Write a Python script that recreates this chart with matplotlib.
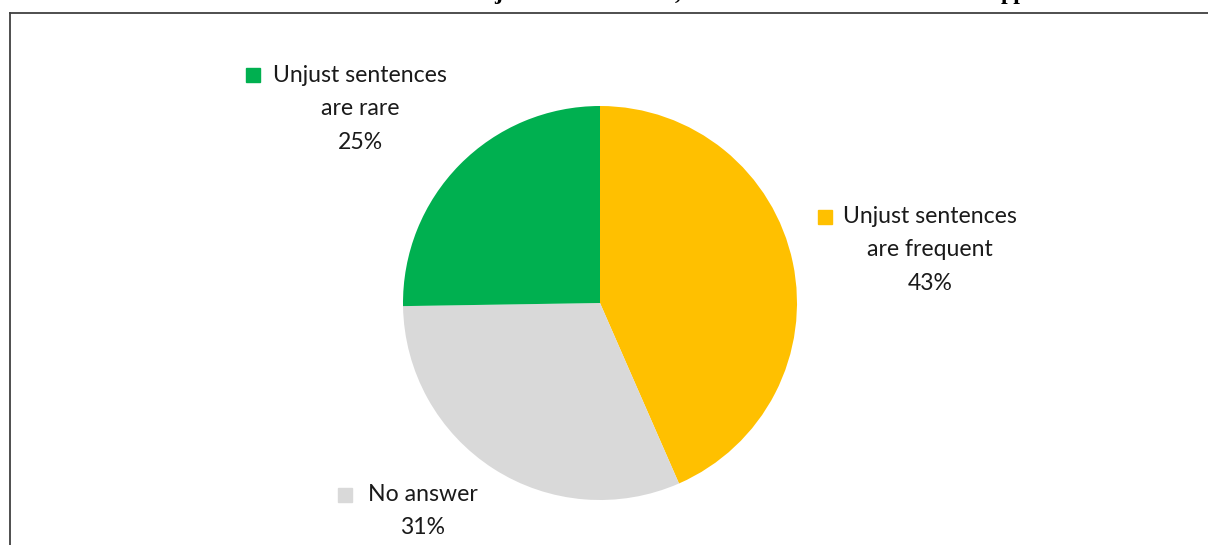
import matplotlib.pyplot as plt
from matplotlib.lines import Line2D

# survey answers (clockwise from 12 o'clock)
labels = ["Unjust sentences\nare frequent", "No answer", "Unjust sentences\nare rare"]
shares = [43, 31, 25]
colors = ["#FFC000", "#D9D9D9", "#00B050"]

W, H = 1208, 545
fig = plt.figure(figsize=(W / 100, H / 100), dpi=100)
fig.patch.set_facecolor("white")

# frame of the chart area, cut off on the right and bottom
fig.add_artist(Line2D([10 / W, 1.01], [1 - 12.5 / H] * 2, color="#404040", lw=1.3))
fig.add_artist(Line2D([10 / W] * 2, [-0.01, 1 - 12.5 / H], color="#404040", lw=1.3))

# bottom of the heading above the frame
serif = dict(family="Liberation Serif", weight="bold", fontsize=17, va="baseline", color="black")
fig.text(494 / W, 1 + 1 / H, "j", **serif)
fig.text(675 / W, 1 + 1 / H, ",", **serif)
fig.text(1001 / W, 1 + 1 / H, "pp", **serif)

# pie: centre (600, 303) px, radius 197 px
cx, cy, r = 600, 303, 197
ax = fig.add_axes([(cx - r) / W, (H - cy - r) / H, 2 * r / W, 2 * r / H])
ax.pie(shares, colors=colors, startangle=90, counterclock=False, radius=1,
       wedgeprops=dict(linewidth=0))
ax.set_xlim(-1, 1)
ax.set_ylim(-1, 1)
ax.set_aspect("auto")
ax.axis("off")


def px(x, y):
    return ((x - cx) / r, (cy - y) / r)


font = dict(family=["Lato", "DejaVu Sans"], fontsize=16.6, color="#1a1a1a")

# label block centres and legend-key squares, in pixels
label_pos = [(930, 250), (423, 511), (360, 109)]
key_pos = [(825, 217), (345, 495), (253, 75)]

for lab, val, col, (lx, ly), (kx, ky) in zip(labels, shares, colors, label_pos, key_pos):
    tx, ty = px(lx, ly)
    ax.text(tx, ty, f"{lab}\n{round(val)}%", ha="center", va="center",
            multialignment="center", linespacing=1.72, clip_on=False, **font)
    sx, sy = px(kx, ky)
    ax.plot([sx], [sy], marker="s", markersize=10.5, color=col, linestyle="none",
            clip_on=False)

fig.savefig("out.png", dpi=100, facecolor="white")
